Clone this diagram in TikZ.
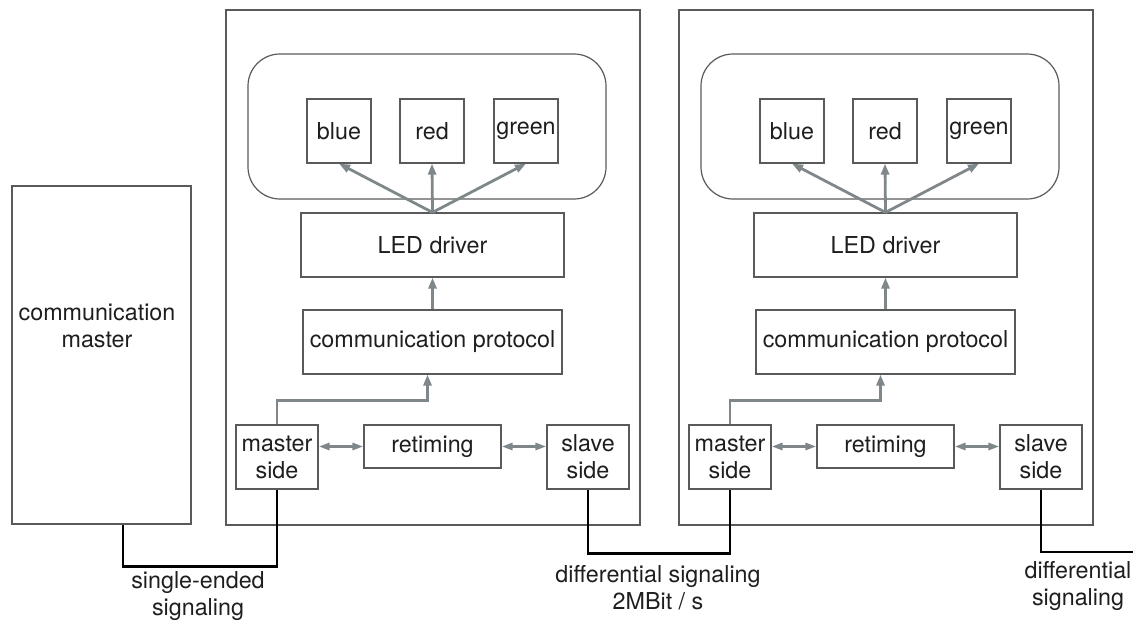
\documentclass[tikz,border=0pt]{standalone}
\usepackage{fontspec}
\setmainfont{TeX Gyre Heros}
\usetikzlibrary{arrows.meta,positioning,calc}
\definecolor{edgegrey}{HTML}{5A5A5A}
\definecolor{flowgrey}{HTML}{7F878A}
\definecolor{inkblack}{HTML}{1E1E1E}

\begin{document}
\begin{tikzpicture}[
    x=1pt, y=-1pt,
    font=\fontsize{23.3}{27}\selectfont,
    blk/.style={draw=edgegrey, line width=1.2pt, rectangle, align=center, text=inkblack, inner sep=0pt},
    led/.style={blk, minimum size=64pt},
    modbox/.style={draw=edgegrey, line width=1.2pt, minimum width=414pt, minimum height=515pt, inner sep=0pt},
    ledgroup/.style={draw=edgegrey, line width=1.2pt, rounded corners=32pt, minimum width=358pt, minimum height=145pt, inner sep=0pt},
    flow/.style={draw=flowgrey, line width=2.8pt, -{Triangle[length=11pt,width=8pt]}},
    dflow/.style={draw=flowgrey, line width=2.8pt, {Triangle[length=11pt,width=7pt]}-{Triangle[length=11pt,width=7pt]}},
    wire/.style={draw=black, line width=2.5pt},
    lbl/.style={align=center, text=inkblack, inner sep=0pt}
]
    \useasboundingbox (0,0) rectangle (1144,621);

    % bus master
    \node[blk, minimum width=179pt, minimum height=338pt] (cmaster) at (101.5,355) {};
    \node[lbl] (cmastertxt) at (97,326) {communication\\master};

    % first LED module
    \node[modbox] (mod1) at (433,267.5) {};
    \node[ledgroup] (rgb1) at (427,126.5) {};
    \node[led] (blue1) at (339,131) {blue}; \node[led] (red1) at (432,131) {red}; \node[led] (green1) at (526,131) {green};
    \node[blk, minimum width=263pt, minimum height=64pt] (drv1) at (432.5,245) {LED driver};
    \node[blk, minimum width=259pt, minimum height=64pt] (proto1) at (432.5,342) {communication protocol};
    \node[blk, minimum width=82pt, minimum height=64pt] (mside1) at (277,457) {master\\side};
    \node[blk, minimum width=137pt, minimum height=43pt] (retime1) at (432.5,446.5) {retiming};
    \node[blk, minimum width=82pt, minimum height=64pt] (sside1) at (588,457) {slave\\side};

    \draw[flow] (drv1.north) -- (blue1.south);
    \draw[flow] (drv1.north) -- (red1.south);
    \draw[flow] (drv1.north) -- (green1.south);
    \draw[flow] (proto1.north) -- (drv1.south);
    \draw[flow] (mside1.north) -- ++(0,-24) -| ([xshift=-5pt]proto1.south);
    \draw[dflow] (mside1.east |- retime1.west) -- (retime1.west);
    \draw[dflow] (retime1.east) -- (sside1.west |- retime1.east);

    % second LED module
    \node[modbox] (mod2) at (886,267.5) {};
    \node[ledgroup] (rgb2) at (880,126.5) {};
    \node[led] (blue2) at (792,131) {blue}; \node[led] (red2) at (885,131) {red}; \node[led] (green2) at (979,131) {green};
    \node[blk, minimum width=263pt, minimum height=64pt] (drv2) at (885.5,245) {LED driver};
    \node[blk, minimum width=259pt, minimum height=64pt] (proto2) at (885.5,342) {communication protocol};
    \node[blk, minimum width=82pt, minimum height=64pt] (mside2) at (730,457) {master\\side};
    \node[blk, minimum width=137pt, minimum height=43pt] (retime2) at (885.5,446.5) {retiming};
    \node[blk, minimum width=82pt, minimum height=64pt] (sside2) at (1041,457) {slave\\side};

    \draw[flow] (drv2.north) -- (blue2.south);
    \draw[flow] (drv2.north) -- (red2.south);
    \draw[flow] (drv2.north) -- (green2.south);
    \draw[flow] (proto2.north) -- (drv2.south);
    \draw[flow] (mside2.north) -- ++(0,-24) -| ([xshift=-5pt]proto2.south);
    \draw[dflow] (mside2.east |- retime2.west) -- (retime2.west);
    \draw[dflow] (retime2.east) -- (sside2.west |- retime2.east);

    % wiring between the units
    \draw[wire] ([xshift=21.5pt]cmaster.south) -- ++(0,42) -| (mside1.south);
    \node[lbl] (selabel) at (198,596) {single-ended\\signaling};
    \draw[wire] (sside1.south) -- ++(0,64) -| (mside2.south);
    \node[lbl] (difflabel) at (658,588) {differential signaling\\2MBit / s};
    \coordinate (chainout) at (1133,552);
    \draw[wire] (sside2.south) |- (chainout);
    \node[lbl] (outlabel) at (1078,586) {differential\\signaling};
\end{tikzpicture}
\end{document}
